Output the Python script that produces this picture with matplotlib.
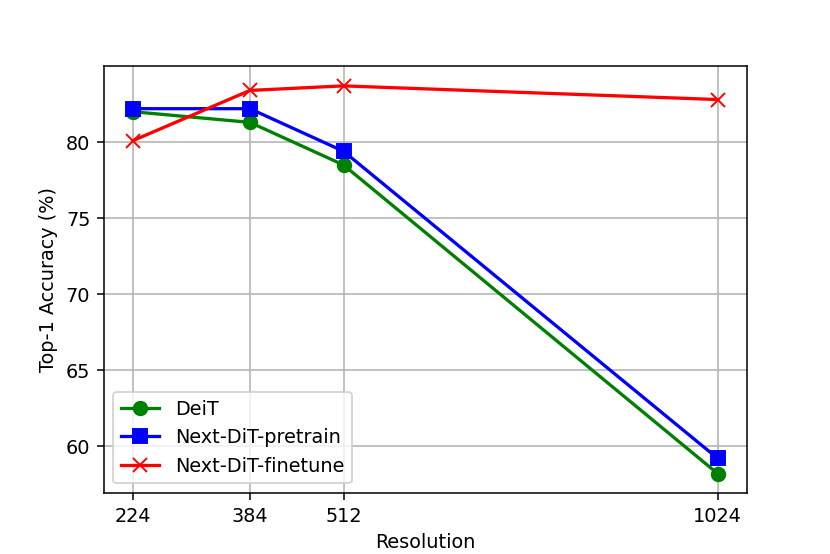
import matplotlib
matplotlib.use("Agg")
import matplotlib.pyplot as plt

resolution = [224, 384, 512, 1024]
deit = [82.0, 81.3, 78.5, 58.2]
nextdit_pretrain = [82.2, 82.2, 79.4, 59.2]
nextdit_finetune = [80.1, 83.4, 83.7, 82.8]

plt.figure(figsize=(830 / 138.4, 554 / 138.4), dpi=138.4)
plt.plot(resolution, deit, marker='o', color='green', linewidth=1.7, markersize=7, label='DeiT')
plt.plot(resolution, nextdit_pretrain, marker='s', color='blue', linewidth=1.7, markersize=7, label='Next-DiT-pretrain')
plt.plot(resolution, nextdit_finetune, marker='x', color='red', linewidth=1.7, markersize=7, label='Next-DiT-finetune')
plt.xticks(resolution)
plt.xlabel('Resolution')
plt.ylabel('Top-1 Accuracy (%)')
plt.grid(True)
plt.legend(loc='lower left')
plt.savefig('out.png', dpi=138.4)
